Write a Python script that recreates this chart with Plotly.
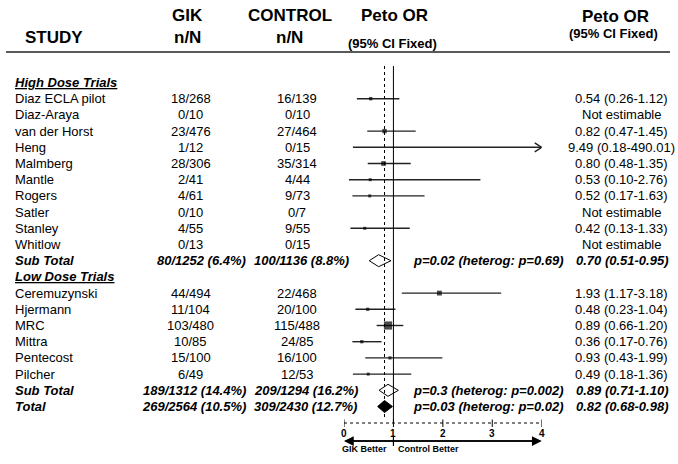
import math
import plotly.graph_objects as go

# ---------------- data ----------------
high_names = ["Diaz ECLA pilot", "Diaz-Araya", "van der Horst", "Heng", "Malmberg",
              "Mantle", "Rogers", "Satler", "Stanley", "Whitlow"]
high_gik = ["18/268", "0/10", "23/476", "1/12", "28/306", "2/41", "4/61", "0/10", "4/55", "0/13"]
high_ctl = ["16/139", "0/10", "27/464", "0/15", "35/314", "4/44", "9/73", "0/7", "9/55", "0/15"]
high_or = [0.54, None, 0.82, 9.49, 0.80, 0.53, 0.52, None, 0.42, None]
high_lo = [0.26, None, 0.47, 0.18, 0.48, 0.10, 0.17, None, 0.13, None]
high_hi = [1.12, None, 1.45, 490.01, 1.35, 2.76, 1.63, None, 1.33, None]

low_names = ["Ceremuzynski", "Hjermann", "MRC", "Mittra", "Pentecost", "Pilcher"]
low_gik = ["44/494", "11/104", "103/480", "10/85", "15/100", "6/49"]
low_ctl = ["22/468", "20/100", "115/488", "24/85", "16/100", "12/53"]
low_or = [1.93, 0.48, 0.89, 0.36, 0.93, 0.49]
low_lo = [1.17, 0.23, 0.66, 0.17, 0.43, 0.18]
low_hi = [3.18, 1.04, 1.20, 0.76, 1.99, 1.36]

pooled_labels = ["Sub Total", "Sub Total", "Total"]
pooled_gik = ["80/1252 (6.4%)", "189/1312 (14.4%)", "269/2564 (10.5%)"]
pooled_ctl = ["100/1136 (8.8%)", "209/1294 (16.2%)", "309/2430 (12.7%)"]
pooled_or = [0.70, 0.89, 0.82]
pooled_lo = [0.51, 0.71, 0.68]
pooled_hi = [0.95, 1.10, 0.98]
pooled_p = ["p=0.02 (heterog: p=0.69)", "p=0.3 (heterog: p=0.002)", "p=0.03 (heterog: p=0.02)"]

group_titles = ["High Dose Trials", "Low Dose Trials"]
x_ticks = [0, 1, 2, 3, 4]

# ---------------- layout helpers ----------------
W, H = 678, 464
ROW0_PX, ROW_PX = 82.5, 16.2
XMIN, XMAX = 0, 4
X0_PX, X4_PX = 344, 541.7
FONT = "Liberation Sans, Arial, sans-serif"


def prow(py):
    return (py - ROW0_PX) / ROW_PX


def xp(px):
    return px / W


ux = (X4_PX - X0_PX) / (XMAX - XMIN)  # px per OR unit

# build row structure
rows = []
r = 0
rows.append(dict(kind="group", name=group_titles[0], r=r)); r += 1
for i in range(len(high_names)):
    rows.append(dict(kind="study", name=high_names[i], gik=high_gik[i], ctl=high_ctl[i],
                     orv=high_or[i], lo=high_lo[i], hi=high_hi[i], r=r)); r += 1
rows.append(dict(kind="pool", idx=0, r=r)); r += 1
rows.append(dict(kind="group", name=group_titles[1], r=r)); r += 1
for i in range(len(low_names)):
    rows.append(dict(kind="study", name=low_names[i], gik=low_gik[i], ctl=low_ctl[i],
                     orv=low_or[i], lo=low_lo[i], hi=low_hi[i], r=r)); r += 1
rows.append(dict(kind="pool", idx=1, r=r)); r += 1
rows.append(dict(kind="pool", idx=2, r=r)); r += 1

fig = go.Figure()
ann = []
shapes = []


def text(x_px, y_row, s, anchor="center", size=13, color="black"):
    ann.append(dict(x=xp(x_px), xref="paper", y=y_row, yref="y", text=s, showarrow=False,
                    xanchor=anchor, yanchor="middle", font=dict(family=FONT, size=size, color=color)))


# headers
text(54, prow(37), "<b>STUDY</b>", size=17)
text(187, prow(15), "<b>GIK</b>", size=17)
text(187, prow(37), "<b>n/N</b>", size=17)
text(290, prow(15), "<b>CONTROL</b>", size=17)
text(289, prow(37), "<b>n/N</b>", size=17)
text(394, prow(15), "<b>Peto OR</b>", size=17)
text(392, prow(43), "<b>(95% CI Fixed)</b>", size=13)
text(615, prow(16), "<b>Peto OR</b>", size=17)
text(613, prow(33), "<b>(95% CI Fixed)</b>", size=13)
shapes.append(dict(type="line", xref="paper", yref="y", x0=xp(6), x1=xp(670),
                   y0=prow(52), y1=prow(52), line=dict(color="#222", width=1.5)))

# reference lines
shapes.append(dict(type="line", xref="x", yref="y", x0=1, x1=1, y0=prow(66), y1=prow(423),
                   line=dict(color="black", width=1)))
overall = pooled_or[2]
shapes.append(dict(type="line", xref="x", yref="y", x0=overall, x1=overall, y0=prow(66), y1=prow(418),
                   line=dict(color="black", width=1, dash="dot")))

ci_x, ci_y = [], []
mk_x, mk_y, mk_s = [], [], []
for row in rows:
    y = row["r"]
    if row["kind"] == "group":
        text(13, y, "<b><i><u>%s</u></i></b>" % row["name"], anchor="left")
    elif row["kind"] == "study":
        text(13, y, row["name"], anchor="left")
        text(191, y, row["gik"])
        text(297, y, row["ctl"])
        if row["orv"] is None:
            text(621, y, "Not estimable")
        else:
            text(621, y, "%.2f (%.2f-%.2f)" % (row["orv"], row["lo"], row["hi"]))
            hi_c = min(row["hi"], XMAX)
            ci_x += [row["lo"], hi_c, None]
            ci_y += [y, y, None]
            if row["hi"] > XMAX:
                dx = 7 / ux
                dy = 4.5 / ROW_PX
                ci_x += [hi_c - dx, hi_c, hi_c - dx, None]
                ci_y += [y - dy, y, y + dy, None]
            if row["orv"] <= XMAX:
                se = (math.log(row["hi"]) - math.log(row["lo"])) / (2 * 1.96)
                w = 1 / se ** 2
                mk_x.append(row["orv"]); mk_y.append(y); mk_s.append(max(3, 1.25 * math.sqrt(w)))
    else:
        k = row["idx"]
        text(13, y, "<b><i>%s</i></b>" % pooled_labels[k], anchor="left")
        text(248, y, "<b><i>%s</i></b>" % pooled_gik[k], anchor="right")
        text(252, y, "<b><i>%s</i></b>" % pooled_ctl[k], anchor="left")
        text(411, y, "<b><i>%s</i></b>" % pooled_p[k], anchor="left")
        text(622, y, "<b><i>%.2f (%.2f-%.2f)</i></b>" % (pooled_or[k], pooled_lo[k], pooled_hi[k]))
        dh = 6 / ROW_PX
        filled = (k == 2)
        fig.add_trace(go.Scatter(
            x=[pooled_lo[k], pooled_or[k], pooled_hi[k], pooled_or[k], pooled_lo[k]],
            y=[y, y - dh, y, y + dh, y], mode="lines", fill="toself",
            fillcolor="black" if filled else "white",
            line=dict(color="black", width=1), hoverinfo="skip", showlegend=False))

fig.add_trace(go.Scatter(x=ci_x, y=ci_y, mode="lines", line=dict(color="#222", width=1.4),
                         hoverinfo="skip", showlegend=False))
fig.add_trace(go.Scatter(x=mk_x, y=mk_y, mode="markers",
                         marker=dict(symbol="square", size=mk_s, color="black", line=dict(width=0)),
                         hoverinfo="skip", showlegend=False))

# custom bottom axis
ay = prow(423)
shapes.append(dict(type="line", xref="x", yref="y", x0=XMIN, x1=XMAX, y0=ay, y1=ay,
                   line=dict(color="black", width=1, dash="dot")))
for t in x_ticks:
    shapes.append(dict(type="line", xref="x", yref="y", x0=t, x1=t, y0=prow(419.5), y1=prow(427),
                       line=dict(color="black", width=1)))
    ann.append(dict(x=t, xref="x", y=prow(433.5), yref="y", text="<b>%d</b>" % t, showarrow=False,
                    xanchor="center", yanchor="middle", font=dict(family=FONT, size=10, color="black")))

arr_y = prow(441)
for tip, tail in [(XMAX, XMIN), (XMIN, XMAX)]:
    ann.append(dict(x=tip, y=arr_y, xref="x", yref="y", ax=tail, ay=arr_y, axref="x", ayref="y",
                    text="", showarrow=True, arrowhead=2, arrowsize=1.3, arrowwidth=1.5,
                    arrowcolor="black"))
shapes.append(dict(type="line", xref="x", yref="y", x0=1, x1=1, y0=prow(436.5), y1=prow(446),
                   line=dict(color="black", width=1.2)))
ann.append(dict(x=1, xref="x", xshift=-4, y=prow(449), yref="y", text="<b>GIK Better</b>",
                showarrow=False, xanchor="right", yanchor="middle",
                font=dict(family=FONT, size=9, color="black")))
ann.append(dict(x=1, xref="x", xshift=3, y=prow(449), yref="y", text="<b>Control Better</b>",
                showarrow=False, xanchor="left", yanchor="middle",
                font=dict(family=FONT, size=9, color="black")))

fig.update_layout(
    width=W, height=H, margin=dict(l=0, r=0, t=0, b=0),
    paper_bgcolor="white", plot_bgcolor="rgba(0,0,0,0)",
    xaxis=dict(domain=[X0_PX / W, X4_PX / W], range=[XMIN, XMAX], visible=False, fixedrange=True),
    yaxis=dict(domain=[0, 1], range=[prow(H), prow(0)], visible=False, fixedrange=True),
    annotations=ann, shapes=shapes, showlegend=False,
)
fig.write_html("out.html", config={"displayModeBar": False},
               post_script="document.body.style.margin='0px';document.body.style.overflow='hidden';")
